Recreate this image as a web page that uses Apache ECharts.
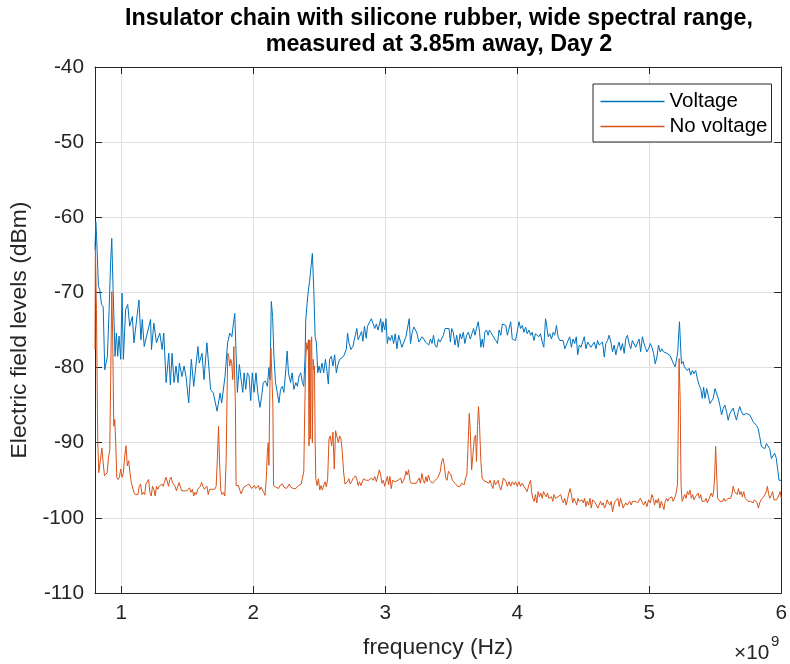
<!DOCTYPE html>
<html><head><meta charset="utf-8">
<script src="https://cdn.jsdelivr.net/npm/echarts@6/dist/echarts.min.js"></script>
<style>html,body{margin:0;padding:0;background:#fff}#c{width:790px;height:664px}</style>
</head><body><div id="c"></div>
<script>
// frequency in units of 1e9 Hz
const seriesNames = ['Voltage', 'No voltage'];
const seriesColors = ['#0072BD', '#D95319'];
const xTicks = [1, 2, 3, 4, 5, 6];
const yTicks = [-110, -100, -90, -80, -70, -60, -50, -40];

const voltFreq = [
0.800,0.806,0.812,0.826,0.836,0.849,0.862,0.874,0.882,0.894,0.907,0.919,0.927,0.937,0.952,0.962,0.972,0.982,0.995,1.005,
1.015,1.032,1.048,1.063,1.083,1.095,1.110,1.133,1.148,1.158,1.173,1.191,1.221,1.228,1.246,1.266,1.291,1.309,1.321,1.339,
1.359,1.371,1.384,1.399,1.414,1.429,1.439,1.459,1.475,1.490,1.510,1.530,1.548,1.580,1.590,1.611,1.626,1.648,1.676,1.697,
1.725,1.748,1.760,1.785,1.805,1.821,
1.837,1.849,1.859,1.869,1.879,1.894,1.907,1.920,1.930,1.942,1.955,1.967,1.980,1.992,2.005,2.020,2.033,2.050,2.063,2.075,
2.091,2.106,2.118,2.126,2.136,2.146,2.156,2.168,2.181,2.194,2.206,2.219,2.231,2.246,2.256,2.266,2.282,2.294,2.307,2.322,
2.334,2.347,2.359,2.372,2.382,2.392,2.397,2.407,2.417,2.427,2.437,2.447,2.458,2.468,2.478,2.488,2.498,2.508,2.520,2.533,
2.546,2.558,2.568,2.578,2.591,2.603,2.616,2.629,2.641,2.654,2.669,2.684,2.694,2.704,2.714,2.724,2.739,2.754,2.769,2.784,
2.794,2.804,2.820,2.830,2.842,2.855,2.865,2.875,
2.882,2.894,2.907,2.920,2.932,2.945,2.957,2.965,2.975,2.982,2.995,3.005,3.015,3.025,3.038,3.050,3.063,3.075,3.088,3.101,
3.113,3.126,3.141,3.156,3.168,3.181,3.191,3.204,3.216,3.229,3.241,3.254,3.266,3.279,3.292,3.304,3.317,3.329,3.342,3.354,
3.365,3.377,3.390,3.402,3.415,3.427,3.440,3.453,3.468,3.483,3.493,3.503,3.515,3.528,3.541,3.553,3.566,3.578,3.591,3.603,
3.616,3.629,3.644,3.656,3.669,3.679,3.691,3.704,3.714,3.724,3.734,3.744,3.754,3.767,3.779,3.789,3.799,3.812,3.825,3.837,
3.850,3.862,3.875,3.887,3.900,3.913,3.925,
3.937,3.950,3.962,3.975,3.987,4.000,4.013,4.025,4.038,4.050,4.063,4.075,4.088,4.101,4.113,4.126,4.138,4.151,4.163,4.176,
4.189,4.201,4.214,4.221,4.234,4.246,4.259,4.272,4.284,4.297,4.309,4.322,4.334,4.347,4.360,4.372,4.385,4.397,4.410,4.422,
4.435,4.447,4.458,4.470,4.483,4.495,4.508,4.520,4.533,4.546,4.558,4.571,4.583,4.596,4.608,4.621,4.634,4.646,4.659,4.671,
4.684,4.696,4.709,4.722,4.734,4.747,4.759,4.772,4.784,4.797,4.810,4.822,4.835,4.847,4.860,4.872,4.885,4.897,4.910,4.923,
4.935,4.948,
4.957,4.970,4.982,4.995,5.008,5.020,5.033,5.045,5.058,5.070,5.083,5.096,5.108,5.121,5.133,5.146,5.158,5.171,5.184,5.196,
5.206,5.216,5.224,5.229,5.236,5.244,5.256,5.266,5.277,5.289,5.302,5.314,5.327,5.339,5.352,5.365,5.377,5.390,5.402,5.412,
5.422,5.435,5.447,5.460,5.473,5.485,5.498,5.510,5.523,5.535,5.548,5.561,5.573,5.586,5.598,5.611,5.623,5.636,5.649,5.661,
5.674,5.686,5.699,5.711,5.724,5.737,5.749,5.762,5.774,5.787,5.799,5.812,5.825,5.837,5.850,5.862,5.875,5.888,5.900,5.913,
5.925,5.938,5.950,5.963,5.975,5.983,5.996,6.000
];
const voltLevel = [
-64.3,-60.6,-62.5,-69.2,-69.6,-71.6,-71.9,-80.3,-80.3,-78.5,-72.3,-65.7,-62.8,-69.6,-78.5,-75.4,-78.5,-75.8,-78.9,-70.1,
-78.9,-72.3,-71.6,-74.5,-73.2,-76.7,-76.5,-71.0,-76.3,-73.6,-77.2,-75.8,-73.6,-77.6,-74.1,-76.7,-75.4,-77.6,-75.4,-82.0,
-78.1,-82.3,-78.1,-82.0,-79.8,-82.0,-79.4,-81.2,-79.8,-81.2,-84.7,-78.9,-82.5,-77.2,-79.4,-78.1,-81.6,-76.7,-82.9,-83.4,
-85.8,-83.4,-84.7,-81.2,-76.7,-75.4,
-75.9,-74.1,-72.8,-78.1,-83.3,-79.6,-81.6,-83.3,-80.7,-82.9,-80.7,-81.1,-84.4,-80.7,-83.3,-80.7,-83.3,-85.3,-83.8,-82.0,
-81.8,-82.5,-80.0,-81.6,-71.2,-73.2,-78.5,-82.0,-83.3,-84.7,-82.9,-82.5,-83.3,-80.3,-77.8,-80.7,-82.0,-80.7,-82.9,-82.0,
-82.5,-81.1,-80.7,-82.0,-82.5,-78.5,-73.7,-71.5,-69.7,-68.4,-66.6,-64.8,-69.7,-75.9,-76.7,-80.7,-79.8,-80.7,-79.4,-80.7,
-78.9,-80.5,-82.2,-78.9,-78.5,-79.8,-78.3,-80.7,-79.6,-78.9,-78.7,-78.5,-78.5,-77.6,-75.4,-76.7,-77.6,-77.2,-77.2,-74.8,
-76.3,-75.9,-75.2,-76.5,-74.5,-76.1,-74.5,-74.6,
-73.9,-73.5,-73.7,-74.8,-74.2,-75.0,-75.0,-73.5,-75.3,-73.9,-75.0,-73.5,-76.8,-75.9,-76.4,-75.7,-76.8,-75.5,-77.5,-75.7,
-75.5,-77.3,-77.5,-75.9,-75.9,-73.5,-76.8,-75.3,-74.6,-75.0,-75.5,-76.6,-76.8,-75.9,-76.2,-76.6,-76.4,-77.0,-76.2,-76.8,
-75.7,-77.0,-77.3,-76.2,-76.6,-76.8,-75.7,-74.8,-74.6,-74.8,-76.6,-74.8,-75.3,-77.0,-75.7,-77.3,-75.5,-76.2,-75.3,-76.8,
-75.7,-75.3,-76.2,-75.5,-74.8,-75.7,-74.8,-73.9,-75.3,-77.3,-76.2,-77.3,-75.3,-75.0,-75.7,-75.0,-75.3,-75.7,-75.5,-76.4,
-76.8,-75.0,-75.7,-74.2,-74.4,-74.4,-75.7,
-75.9,-73.9,-76.2,-76.4,-76.4,-76.4,-73.9,-74.8,-74.4,-75.3,-74.6,-75.5,-75.0,-75.7,-75.3,-76.4,-75.5,-75.5,-75.9,-75.5,
-76.6,-77.3,-73.5,-74.2,-75.9,-75.5,-76.2,-75.3,-75.7,-74.4,-75.9,-76.4,-76.6,-76.4,-77.5,-77.3,-76.4,-75.9,-77.3,-76.2,
-76.8,-75.9,-78.3,-77.0,-77.3,-76.6,-75.9,-77.5,-76.6,-76.4,-77.3,-77.5,-76.6,-77.5,-76.4,-77.0,-76.8,-76.6,-78.6,-76.8,
-76.4,-75.7,-76.6,-77.9,-77.0,-78.3,-77.3,-76.6,-77.7,-76.8,-78.1,-76.2,-75.7,-76.8,-77.5,-76.4,-76.6,-77.3,-77.5,-76.2,
-77.9,-75.9,
-76.6,-77.3,-77.9,-77.5,-76.8,-77.3,-78.1,-79.5,-78.6,-77.0,-77.9,-77.5,-77.9,-77.7,-78.1,-77.9,-78.4,-78.6,-79.5,-79.9,
-79.0,-77.9,-75.3,-73.9,-76.6,-79.5,-79.2,-79.9,-79.7,-80.4,-80.1,-81.0,-80.4,-80.8,-80.4,-81.5,-82.3,-82.8,-84.1,-82.6,
-84.1,-82.8,-83.7,-84.8,-85.0,-84.1,-82.8,-82.6,-84.1,-85.0,-86.3,-85.4,-85.0,-85.9,-87.0,-86.1,-86.3,-85.4,-86.3,-87.0,
-85.9,-85.2,-85.9,-86.3,-86.1,-86.1,-86.3,-86.3,-86.1,-87.2,-87.0,-87.7,-88.1,-89.2,-90.5,-90.3,-90.8,-90.1,-89.9,-90.8,
-92.1,-91.9,-91.4,-92.1,-93.8,-95.0,-95.2,-95.0
];

const noVoltFreq = [
0.800,0.803,0.811,0.821,0.829,0.839,0.852,0.862,0.872,0.882,0.892,0.902,0.912,0.919,0.927,0.934,0.942,0.950,0.957,0.965,
0.975,0.985,0.995,1.005,1.015,1.025,1.035,1.045,1.055,1.065,1.075,1.085,1.095,1.105,1.115,1.125,1.135,1.146,1.156,1.166,
1.176,1.186,1.196,1.206,1.216,1.226,1.236,1.246,1.256,1.266,1.276,1.286,1.296,1.306,1.316,1.326,1.337,1.347,1.357,1.367,
1.377,1.387,1.397,1.407,1.417,1.427,1.437,1.447,1.457,1.467,1.477,1.487,1.497,1.507,1.517,1.527,1.538,1.548,1.558,1.568,
1.578,1.588,1.598,1.608,1.618,1.628,1.638,1.648,1.658,1.668,1.678,1.688,1.698,1.708,1.718,1.728,1.736,1.743,1.753,1.763,
1.774,1.784,1.794,1.801,1.806,1.814,1.821,1.829,1.836,
1.844,1.852,1.859,1.864,1.869,1.877,1.887,1.897,1.907,1.917,1.927,1.937,1.947,1.957,1.967,1.977,1.987,1.997,2.008,2.018,
2.028,2.038,2.048,2.058,2.068,2.078,2.088,2.098,2.106,2.113,2.118,2.126,2.133,2.141,2.148,2.153,2.161,2.171,2.181,2.191,
2.201,2.211,2.221,2.231,2.241,2.251,2.261,2.272,2.282,2.292,2.302,2.312,2.322,2.332,2.342,2.352,2.362,2.372,2.382,2.390,
2.397,2.405,2.412,2.417,2.422,2.427,2.432,2.437,2.442,2.447,2.453,2.458,2.463,2.468,2.473,2.483,2.493,2.503,2.513,2.523,
2.533,2.543,2.553,2.563,2.573,2.583,2.593,2.603,2.613,2.623,2.634,2.644,2.654,2.664,2.674,2.684,2.694,2.704,2.714,2.724,
2.734,2.744,2.754,2.764,2.774,2.784,2.794,2.804,2.815,2.825,2.835,2.845,2.855,2.865,2.875,
2.882,2.894,2.907,2.920,2.932,2.945,2.955,2.965,2.975,2.985,2.995,3.005,3.015,3.025,3.035,3.045,3.055,3.065,3.075,3.085,
3.096,3.106,3.116,3.126,3.136,3.146,3.156,3.166,3.176,3.186,3.196,3.206,3.216,3.226,3.236,3.246,3.256,3.266,3.277,3.287,
3.297,3.307,3.317,3.327,3.337,3.347,3.357,3.367,3.377,3.387,3.397,3.407,3.417,3.427,3.437,3.447,3.458,3.468,3.478,3.488,
3.498,3.508,3.518,3.528,3.538,3.548,3.558,3.568,3.578,3.588,3.598,3.608,3.618,3.626,3.636,3.644,3.654,3.664,3.674,3.684,
3.691,3.699,3.706,3.714,3.724,3.734,3.744,3.754,3.764,3.774,3.784,3.794,3.804,3.815,3.825,3.835,3.845,3.855,3.865,3.875,
3.885,3.895,3.905,3.915,3.925,
3.937,3.950,3.962,3.975,3.987,4.000,4.013,4.025,4.038,4.050,4.063,4.075,4.088,4.101,4.108,4.118,4.128,4.138,4.148,4.158,
4.168,4.178,4.189,4.199,4.209,4.219,4.229,4.239,4.249,4.259,4.269,4.279,4.289,4.299,4.309,4.319,4.329,4.339,4.349,4.360,
4.370,4.380,4.390,4.400,4.410,4.420,4.430,4.440,4.450,4.460,4.470,4.480,4.490,4.500,4.510,4.520,4.530,4.541,4.551,4.561,
4.571,4.581,4.591,4.601,4.611,4.621,4.631,4.641,4.651,4.661,4.671,4.681,4.691,4.701,4.711,4.722,4.732,4.742,4.752,4.762,
4.772,4.782,4.792,4.802,4.812,4.822,4.832,4.842,4.853,4.863,4.873,4.883,4.893,4.903,4.913,4.923,4.933,4.943,
4.957,4.970,4.982,4.995,5.008,5.020,5.030,5.040,5.050,5.060,5.070,5.080,5.091,5.101,5.111,5.121,5.131,5.141,5.151,5.161,
5.171,5.181,5.191,5.201,5.209,5.214,5.221,5.226,5.234,5.241,5.249,5.259,5.269,5.279,5.289,5.299,5.309,5.319,5.329,5.339,
5.349,5.360,5.370,5.380,5.390,5.400,5.410,5.420,5.430,5.440,5.450,5.460,5.470,5.480,5.488,5.495,5.503,5.510,5.518,5.525,
5.535,5.546,5.556,5.566,5.576,5.586,5.596,5.606,5.616,5.626,5.636,5.646,5.656,5.666,5.676,5.686,5.696,5.706,5.716,5.727,
5.737,5.747,5.757,5.767,5.777,5.787,5.797,5.807,5.817,5.827,5.837,5.847,5.857,5.867,5.877,5.887,5.895,5.905,5.915,5.925,
5.935,5.945,5.955,5.965,5.975,5.985,5.992,6.000
];
const noVoltLevel = [
-77.6,-63.9,-72.3,-90.0,-94.0,-94.2,-90.7,-92.7,-94.4,-94.4,-94.0,-92.0,-90.9,-81.2,-69.9,-75.8,-87.8,-86.9,-90.0,-94.6,
-94.9,-94.6,-93.5,-94.6,-94.0,-91.8,-90.4,-93.1,-92.4,-94.0,-95.3,-95.5,-96.6,-96.9,-96.9,-96.9,-95.8,-95.5,-96.9,-96.6,
-96.9,-95.5,-95.3,-94.9,-96.6,-97.1,-95.8,-96.2,-97.1,-95.8,-96.2,-95.8,-96.0,-95.5,-95.8,-95.3,-94.6,-95.1,-95.8,-94.9,
-94.6,-95.3,-95.1,-95.8,-96.4,-96.2,-95.3,-95.1,-96.4,-96.4,-96.4,-96.6,-96.4,-96.6,-96.0,-96.6,-96.2,-97.1,-96.6,-96.9,
-96.2,-96.4,-95.8,-95.3,-95.8,-96.2,-96.0,-95.8,-96.9,-96.2,-96.0,-96.2,-96.0,-96.2,-95.8,-91.8,-87.8,-92.2,-96.4,-96.9,
-96.6,-97.1,-92.2,-83.4,-78.1,-78.5,-79.8,-78.9,-79.4,
-81.6,-77.2,-77.2,-85.1,-95.7,-95.9,-95.7,-96.3,-96.8,-96.6,-95.9,-96.1,-95.7,-95.9,-95.5,-95.7,-96.1,-95.9,-95.7,-96.1,
-95.9,-95.7,-96.3,-95.9,-95.7,-96.6,-97.0,-94.8,-91.3,-90.0,-93.0,-81.6,-77.4,-77.6,-85.1,-95.7,-95.9,-95.9,-95.7,-96.1,
-95.7,-95.9,-95.5,-95.9,-95.7,-96.1,-95.9,-95.5,-95.9,-95.7,-96.1,-95.9,-96.1,-95.9,-95.7,-95.9,-95.5,-95.7,-93.9,-85.1,
-78.9,-76.7,-77.6,-76.3,-90.4,-76.3,-89.5,-76.7,-75.9,-90.0,-78.9,-80.3,-79.8,-89.5,-94.8,-95.7,-94.8,-96.3,-95.7,-96.3,
-95.7,-95.2,-95.9,-94.8,-89.5,-89.1,-90.4,-88.6,-93.5,-88.4,-88.6,-90.0,-89.1,-89.5,-91.3,-93.9,-95.5,-95.5,-95.2,-94.8,
-95.5,-95.2,-94.8,-94.6,-94.4,-94.8,-95.7,-95.2,-95.7,-95.5,-94.8,-94.6,-95.0,-94.8,-95.0,
-95.2,-94.7,-95.0,-94.5,-95.2,-95.0,-93.6,-94.3,-95.4,-95.0,-95.8,-95.2,-94.5,-95.6,-94.5,-96.1,-95.0,-95.0,-95.2,-95.0,
-95.0,-95.2,-94.7,-95.4,-95.2,-94.7,-93.8,-94.3,-93.6,-95.0,-95.4,-95.6,-95.4,-95.2,-95.4,-95.0,-94.7,-95.4,-94.1,-95.0,
-95.4,-94.5,-95.2,-94.3,-95.0,-95.0,-95.4,-95.2,-95.0,-95.2,-94.7,-94.7,-93.8,-92.5,-92.1,-93.0,-94.7,-95.0,-93.8,-93.8,
-94.3,-95.0,-95.0,-95.4,-95.6,-95.8,-95.8,-95.8,-95.4,-95.2,-95.6,-94.7,-94.3,-90.8,-86.1,-88.5,-93.6,-91.6,-89.4,-89.0,
-92.5,-87.7,-85.2,-87.7,-92.5,-94.7,-95.0,-95.0,-95.2,-95.0,-95.4,-95.0,-95.6,-96.1,-95.0,-95.6,-95.4,-95.0,-95.8,-96.3,
-95.6,-94.7,-94.5,-95.2,-95.8,
-95.2,-95.8,-95.2,-95.6,-95.2,-95.8,-95.2,-95.8,-95.4,-95.8,-95.6,-96.5,-95.6,-95.0,-96.5,-97.4,-97.8,-96.9,-98.0,-96.5,
-97.2,-96.7,-97.4,-96.5,-96.9,-97.2,-96.7,-97.4,-97.6,-97.2,-97.8,-96.9,-97.4,-97.6,-97.2,-97.4,-96.9,-97.6,-98.0,-97.4,
-98.3,-97.6,-96.7,-96.1,-96.9,-98.0,-97.4,-97.8,-98.3,-97.4,-97.8,-98.0,-97.6,-98.0,-97.4,-98.5,-97.8,-98.3,-97.4,-98.7,
-97.6,-97.8,-98.0,-97.8,-98.7,-98.9,-97.8,-98.3,-98.0,-98.7,-98.3,-97.6,-98.0,-98.3,-97.8,-99.2,-98.3,-97.8,-98.0,-97.4,
-98.5,-97.4,-98.0,-98.7,-98.3,-98.0,-98.3,-98.5,-97.8,-98.3,-97.8,-97.6,-97.8,-98.0,-98.0,-97.8,-97.4,-97.6,
-98.3,-97.8,-98.5,-97.6,-98.0,-96.9,-97.4,-98.3,-97.6,-98.0,-97.4,-98.7,-97.8,-98.3,-98.9,-97.8,-97.4,-97.8,-97.4,-97.6,
-97.2,-97.8,-97.4,-96.9,-96.7,-95.6,-86.3,-78.8,-84.1,-95.6,-97.8,-97.6,-96.9,-97.4,-96.5,-96.9,-96.3,-97.4,-96.9,-97.6,
-97.2,-97.4,-96.7,-97.4,-96.9,-97.8,-97.6,-97.8,-97.4,-98.0,-97.6,-97.4,-96.7,-97.2,-96.5,-94.7,-90.5,-93.8,-97.4,-97.6,
-97.8,-97.6,-97.8,-97.4,-97.8,-97.6,-97.4,-97.6,-97.4,-96.9,-95.8,-96.5,-96.3,-96.9,-96.1,-96.9,-96.5,-97.2,-96.5,-97.4,
-97.2,-97.8,-97.6,-97.8,-97.6,-98.0,-97.6,-97.8,-98.0,-98.7,-98.0,-97.6,-97.4,-97.2,-96.9,-96.5,-95.8,-96.9,-97.4,-97.2,
-96.5,-97.6,-97.4,-97.6,-97.8,-96.9,-96.5,-97.4
];

const FONT = '"Liberation Sans", Arial, Helvetica, sans-serif';
const AX = '#262626';
const pairs = (xs, ys) => xs.map((x, i) => [x, ys[i]]);

const chart = echarts.init(document.getElementById('c'), null, {renderer: 'canvas'});
const xFmt = v => xTicks.indexOf(Math.round(v * 1000) / 1000) >= 0 ? String(Math.round(v)) : '';
chart.setOption({
  animation: false,
  backgroundColor: '#fff',
  textStyle: {fontFamily: FONT},
  title: {
    text: 'Insulator chain with silicone rubber, wide spectral range,\nmeasured at 3.85m away, Day 2',
    left: 439, top: 6, textAlign: 'center', padding: 0,
    textStyle: {fontSize: 23.3, fontWeight: 'bold', color: '#000', lineHeight: 26, fontFamily: FONT}
  },
  grid: {left: 95, top: 67, width: 689, height: 527, containLabel: false},
  legend: {
    orient: 'vertical', left: 593, top: 84,
    icon: 'rect', itemWidth: 64, itemHeight: 1.3, itemGap: 4,
    padding: [7, 4, 5, 7.5],
    backgroundColor: '#fff', borderColor: AX, borderWidth: 1, borderRadius: 0,
    textStyle: {fontSize: 20.5, lineHeight: 21, color: '#000', fontFamily: FONT},
    data: seriesNames.map((n, i) => ({name: n, itemStyle: {color: seriesColors[i], borderWidth: 0}}))
  },
  xAxis: [{
    type: 'value', min: 0.8, max: xTicks[xTicks.length - 1],
    name: 'frequency (Hz)', nameLocation: 'middle', nameGap: 43,
    nameTextStyle: {fontSize: 22.9, color: AX, fontFamily: FONT},
    axisLine: {show: true, onZero: false, lineStyle: {color: AX, width: 1}},
    axisTick: {show: true, inside: true, length: 7, lineStyle: {color: AX}},
    axisLabel: {show: true, margin: 10, fontSize: 20.8, color: AX, fontFamily: FONT, formatter: xFmt, showMinLabel: true, showMaxLabel: true},
    splitLine: {show: true, lineStyle: {color: '#dfdfdf', width: 1}}
  }, {
    type: 'value', position: 'top', min: 0.8, max: xTicks[xTicks.length - 1],
    axisLine: {show: true, onZero: false, lineStyle: {color: AX, width: 1}},
    axisTick: {show: true, inside: true, length: 7, lineStyle: {color: AX}},
    axisLabel: {show: false}, splitLine: {show: false}
  }],
  yAxis: [{
    type: 'value', min: yTicks[0], max: yTicks[yTicks.length - 1], interval: 10,
    name: 'Electric field levels (dBm)', nameLocation: 'middle', nameGap: 59, nameRotate: 90,
    nameTextStyle: {fontSize: 22.9, color: AX, fontFamily: FONT},
    axisLine: {show: true, onZero: false, lineStyle: {color: AX, width: 1}},
    axisTick: {show: true, inside: true, length: 7, lineStyle: {color: AX}},
    axisLabel: {show: true, margin: 11, fontSize: 20.8, color: AX, fontFamily: FONT},
    splitLine: {show: true, lineStyle: {color: '#dfdfdf', width: 1}}
  }, {
    type: 'value', position: 'right', min: yTicks[0], max: yTicks[yTicks.length - 1], interval: 10,
    axisLine: {show: true, onZero: false, lineStyle: {color: AX, width: 1}},
    axisTick: {show: true, inside: true, length: 7, lineStyle: {color: AX}},
    axisLabel: {show: false}, splitLine: {show: false}
  }],
  graphic: [
    {type: 'text', x: 734, y: 643, silent: true,
     style: {text: '×10', font: '20.8px ' + FONT, fill: AX}},
    {type: 'text', x: 771, y: 634, silent: true,
     style: {text: '9', font: '15px ' + FONT, fill: AX}}
  ],
  series: [{
    name: seriesNames[0], type: 'line', xAxisIndex: 0, yAxisIndex: 0,
    data: pairs(voltFreq, voltLevel), symbol: 'none', showSymbol: false,
    lineStyle: {color: seriesColors[0], width: 1}, itemStyle: {color: seriesColors[0]},
    clip: true, silent: true, z: 2
  }, {
    name: seriesNames[1], type: 'line', xAxisIndex: 0, yAxisIndex: 0,
    data: pairs(noVoltFreq, noVoltLevel), symbol: 'none', showSymbol: false,
    lineStyle: {color: seriesColors[1], width: 1}, itemStyle: {color: seriesColors[1]},
    clip: true, silent: true, z: 3
  }]
});
</script></body></html>
